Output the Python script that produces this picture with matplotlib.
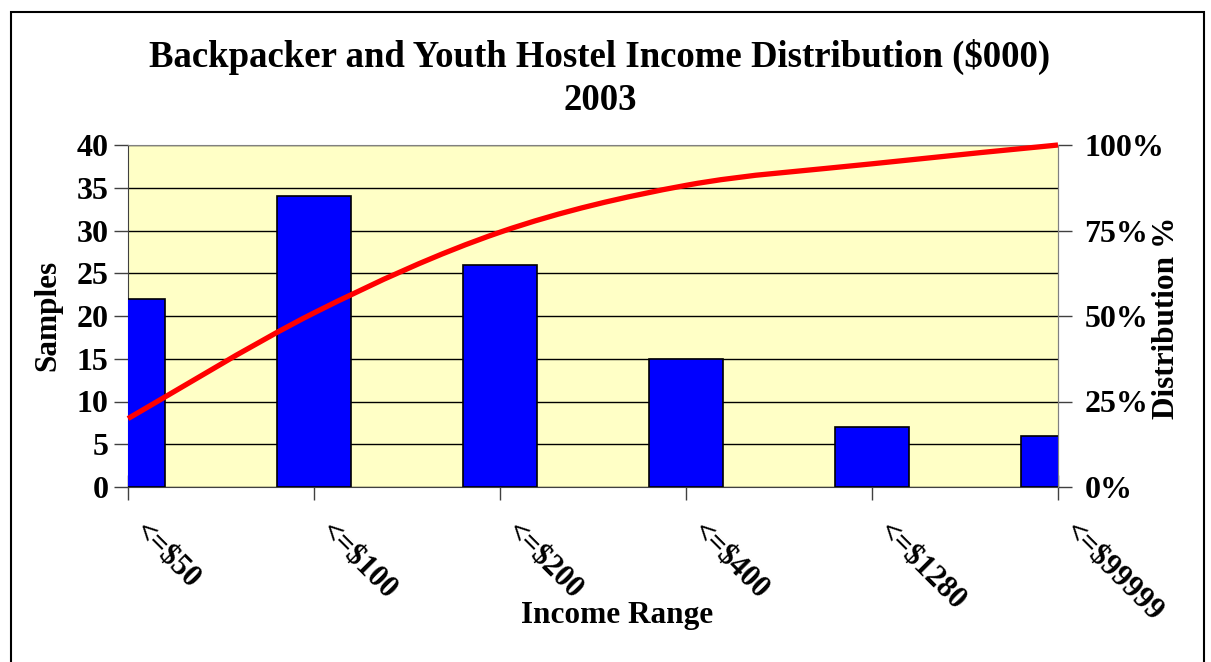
"""
Backpacker and youth hostel income distribution (2003):
sample counts per income band with a smoothed cumulative-percentage line.
"""

import matplotlib
matplotlib.use('Agg')
import matplotlib.pyplot as plt
from matplotlib.path import Path
from matplotlib.patches import PathPatch, Rectangle
import numpy as np

income_ranges = ['<=$50', '<=$100', '<=$200', '<=$400', '<=$1280', '<=$99999']
samples = [22, 34, 26, 15, 7, 6]
cumulative_pct = [20.0, 50.9, 74.5, 88.2, 94.5, 100.0]

W, H = 1211, 662
SERIF = 'Liberation Serif'

fig = plt.figure(figsize=(W / 100, H / 100), dpi=100)
fig.patch.set_facecolor('white')

# outer chart frame
fig.patches.append(Rectangle((11 / W, -0.05), 1193 / W, (H - 12) / H + 0.05,
                             transform=fig.transFigure, fill=False,
                             edgecolor='black', linewidth=1.5))

left, right, top, bottom = 128, 1058, 145, 487
ax = fig.add_axes([left / W, (H - bottom) / H, (right - left) / W, (bottom - top) / H])
ax.set_facecolor('#FFFFC6')

x = np.arange(len(income_ranges))
ax.bar(x, samples, width=0.4, color='#0000FF', edgecolor='black',
       linewidth=1.2, zorder=3)
ax.set_xlim(0, len(income_ranges) - 1)
ax.set_ylim(0, 40)
ax.set_yticks(range(0, 41, 5))
ax.yaxis.grid(True, color='black', linewidth=1.0, zorder=1)
ax.set_axisbelow(True)

for side in ['top', 'right']:
    ax.spines[side].set_color('#808080')
ax.spines['left'].set_color('#404040')
ax.spines['bottom'].set_color('#404040')

ax.tick_params(axis='y', direction='out', length=10, width=1, color='#404040',
               labelsize=23, pad=4)
ax.tick_params(axis='x', direction='inout', length=18, width=1, color='#404040',
               labelbottom=False)
ax.set_xticks(x)
for lab in ax.get_yticklabels():
    lab.set_fontfamily(SERIF)
    lab.set_fontweight('bold')

# rotated category labels
for xi, name in zip(x, income_ranges):
    ax.annotate(name, xy=(xi, 0), xycoords=('data', 'axes fraction'),
                xytext=(10, -40), textcoords='offset pixels',
                rotation=-45, rotation_mode='anchor', ha='left', va='center',
                fontsize=22, fontweight='bold', family=SERIF)

# cumulative distribution on the secondary axis
ax2 = ax.twinx()
ax2.set_ylim(0, 100)
ax2.set_yticks([0, 25, 50, 75, 100])
ax2.set_yticklabels([f'{v}%' for v in [0, 25, 50, 75, 100]])
ax2.tick_params(axis='y', direction='out', length=10, width=1, color='#404040',
                labelsize=23, pad=9)
for lab in ax2.get_yticklabels():
    lab.set_fontfamily(SERIF)
    lab.set_fontweight('bold')
for side in ['top', 'left', 'bottom']:
    ax2.spines[side].set_visible(False)
ax2.spines['right'].set_color('#808080')

# smoothed line through the cumulative points (cubic Bezier segments)
pts = np.column_stack([x, cumulative_pct]).astype(float)
ext = np.vstack([pts[0], pts, pts[-1]])
verts = [tuple(pts[0])]
codes = [Path.MOVETO]
for i in range(len(pts) - 1):
    p0, p1, p2, p3 = ext[i], ext[i + 1], ext[i + 2], ext[i + 3]
    c1 = p1 + (p2 - p0) / 6
    c2 = p2 - (p3 - p1) / 6
    verts += [tuple(c1), tuple(c2), tuple(p2)]
    codes += [Path.CURVE4] * 3
ax2.add_patch(PathPatch(Path(verts, codes), fill=False, edgecolor='#FF0000',
                        linewidth=3.8, capstyle='butt', zorder=5,
                        clip_on=False))

# titles and axis labels
fig.text(600 / W, 1 - 57 / H, 'Backpacker and Youth Hostel Income Distribution ($000)',
         ha='center', va='center', fontsize=26.5, fontweight='bold', family=SERIF)
fig.text(600 / W, 1 - 101 / H, '2003', ha='center', va='center',
         fontsize=26.5, fontweight='bold', family=SERIF)
fig.text(48 / W, 1 - 315 / H, 'Samples', rotation=90, ha='center', va='center',
         fontsize=22.5, fontweight='bold', family=SERIF)
fig.text(1166 / W, 1 - 318 / H, 'Distribution %', rotation=90, ha='center',
         va='center', fontsize=22.5, fontweight='bold', family=SERIF)
fig.text(617 / W, 1 - 615 / H, 'Income Range', ha='center', va='center',
         fontsize=22.5, fontweight='bold', family=SERIF)

fig.savefig('out.png', dpi=100)
